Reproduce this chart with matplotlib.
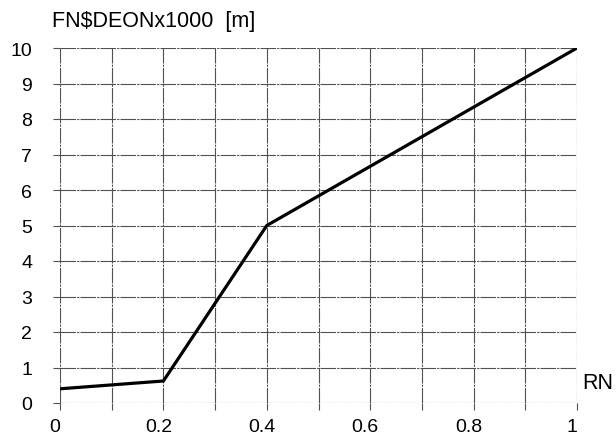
import matplotlib.pyplot as plt
import matplotlib.transforms as mtransforms
import numpy as np

plt.rcParams['font.family'] = ['Liberation Sans', 'DejaVu Sans']

rn = [0, 0.2, 0.4, 1.0]
depth = [0.4, 0.62, 5.0, 10.0]
xgrid = np.arange(0, 1.01, 0.1)
xtick_labels = ['0', '', '0.2', '', '0.4', '', '0.6', '', '0.8', '', '1']
ytick_vals = list(range(11))

fig = plt.figure(figsize=(6.16, 4.39), dpi=100)
ax = fig.add_axes([60/616, 1 - 404/439, (577-60)/616, (404-49)/439])

gc = '#505050'
for xv in xgrid:
    ax.axvline(xv, color=gc, lw=0.8, ls=(0, (14, 1, 2, 1)), zorder=1)
for yv in ytick_vals:
    ax.axhline(yv, color=gc, lw=0.8, ls=(0, (14, 1, 2, 1)), zorder=1)

ax.plot(rn, depth, color='black', lw=2.3, zorder=3, solid_capstyle='round')

ax.set_xlim(0, 1)
ax.set_ylim(0, 10)
ax.set_xticks(xgrid)
ax.set_xticklabels(xtick_labels)
ax.set_yticks(ytick_vals)
ax.tick_params(axis='both', length=5, color=gc, width=0.8, labelsize=14)
ax.tick_params(axis='x', pad=6)
ax.tick_params(axis='y', pad=15)
shift = mtransforms.ScaledTranslation(-5/100, 0, fig.dpi_scale_trans)
for lbl in ax.get_xticklabels():
    lbl.set_transform(lbl.get_transform() + shift)
for s in ax.spines.values():
    s.set_visible(False)

fig.text(52/616, 1 - 21/439, 'FN$DEONx1000  [m]', fontsize=15.5, va='center', ha='left')
fig.text(582/616, 1 - 384/439, 'RN', fontsize=15.5, va='center', ha='left')

fig.savefig('out.png', dpi=100)
